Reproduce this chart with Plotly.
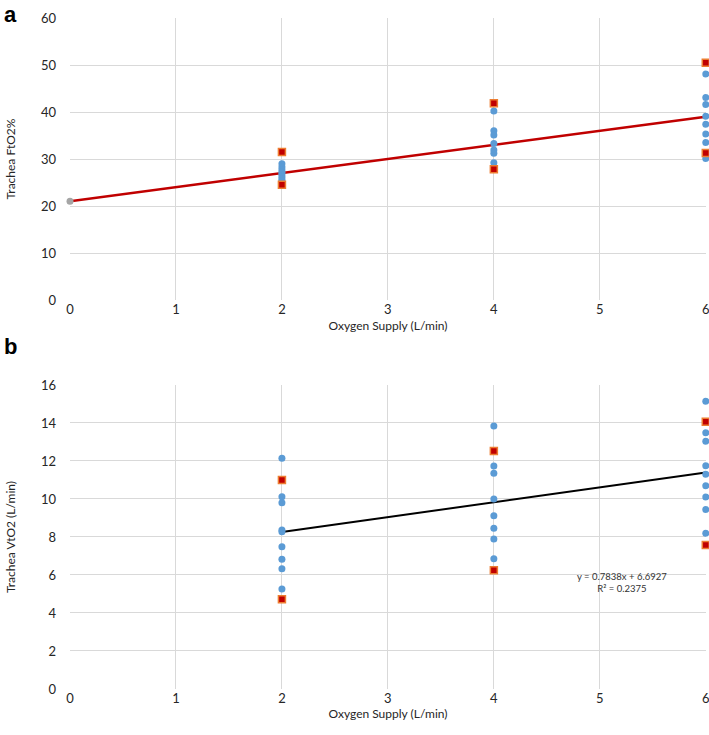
import plotly.graph_objects as go

# ---- Panel a data (Trachea FtO2 %) ----
a_blue_x = [2]*8 + [4]*7 + [6]*8
a_blue_y = [29.0, 28.3, 27.7, 27.2, 26.8, 26.3, 25.8, 25.4,
            40.2, 36.0, 35.1, 33.3, 31.9, 31.2, 29.2,
            48.1, 43.1, 41.6, 39.1, 37.4, 35.3, 33.5, 30.1]
a_red_x = [2, 2, 4, 4, 6, 6]
a_red_y = [31.5, 24.5, 41.85, 27.8, 50.5, 31.3]
a_grey_x = [0]
a_grey_y = [21.0]
a_line_x = [0, 6]
a_slope, a_intercept = 3.0, 21.0

# ---- Panel b data (Trachea VtO2 L/min) ----
b_blue_x = [2]*9 + [4]*8 + [6]*9
b_blue_y = [12.14, 10.12, 9.8, 8.37, 8.28, 7.49, 6.83, 6.33, 5.26,
            13.84, 11.74, 11.35, 10.0, 9.12, 8.46, 7.89, 6.86,
            15.14, 13.49, 13.04, 11.75, 11.3, 10.7, 10.1, 9.44, 8.19]
b_red_x = [2, 2, 4, 4, 6, 6]
b_red_y = [11.0, 4.72, 12.53, 6.25, 14.07, 7.58]
b_line_x = [2, 6]
b_slope, b_intercept = 0.7838, 6.6927
b_r2 = 0.2375

x_ticks = [0, 1, 2, 3, 4, 5, 6]

BLUE = "#5B9BD5"
RED = "#C00000"
ORANGE = "#ED7D31"
GREY = "#A5A5A5"
GRID = "#D9D9D9"
TXT = "#262626"
FONT = "Lato, Liberation Sans, sans-serif"

fig = go.Figure()

# Panel a
fig.add_trace(go.Scatter(x=a_line_x, y=[a_slope*v + a_intercept for v in a_line_x],
                         mode="lines", line=dict(color=RED, width=2.5),
                         xaxis="x", yaxis="y", showlegend=False, hoverinfo="skip"))
fig.add_trace(go.Scatter(x=a_grey_x, y=a_grey_y, mode="markers",
                         marker=dict(color=GREY, size=7), cliponaxis=False,
                         xaxis="x", yaxis="y", showlegend=False))
fig.add_trace(go.Scatter(x=a_blue_x, y=a_blue_y, mode="markers",
                         marker=dict(color=BLUE, size=7), cliponaxis=False,
                         xaxis="x", yaxis="y", showlegend=False))
fig.add_trace(go.Scatter(x=a_red_x, y=a_red_y, mode="markers",
                         marker=dict(color=RED, size=7, symbol="square",
                                     line=dict(color=ORANGE, width=1.5)),
                         cliponaxis=False, xaxis="x", yaxis="y", showlegend=False))

# Panel b
fig.add_trace(go.Scatter(x=b_line_x, y=[b_slope*v + b_intercept for v in b_line_x],
                         mode="lines", line=dict(color="black", width=2),
                         xaxis="x2", yaxis="y2", showlegend=False, hoverinfo="skip"))
fig.add_trace(go.Scatter(x=b_blue_x, y=b_blue_y, mode="markers",
                         marker=dict(color=BLUE, size=7), cliponaxis=False,
                         xaxis="x2", yaxis="y2", showlegend=False))
fig.add_trace(go.Scatter(x=b_red_x, y=b_red_y, mode="markers",
                         marker=dict(color=RED, size=7, symbol="square",
                                     line=dict(color=ORANGE, width=1.5)),
                         cliponaxis=False, xaxis="x2", yaxis="y2", showlegend=False))

axis_common = dict(showgrid=True, gridcolor=GRID, gridwidth=1, zeroline=False,
                   showline=False, tickfont=dict(size=13, color=TXT, family=FONT),
                   title_font=dict(size=12, color=TXT, family=FONT), fixedrange=True,
                   ticklabeloverflow="allow")

fig.update_layout(
    width=709, height=735,
    margin=dict(l=70, r=3, t=18, b=46),
    paper_bgcolor="white", plot_bgcolor="white",
    font=dict(family=FONT, color=TXT),
    xaxis=dict(domain=[0, 1], anchor="y", range=[0, 6.002], tickvals=x_ticks,
               automargin=False,
               title=dict(text="Oxygen Supply (L/min)", standoff=5), **axis_common),
    yaxis=dict(domain=[0.5797, 1.0], anchor="x", range=[0, 60], dtick=10,
               ticklabelstandoff=13,
               title=dict(text="Trachea FtO2%", standoff=22), **axis_common),
    xaxis2=dict(domain=[0, 1], anchor="y2", range=[0, 6.002], tickvals=x_ticks,
                automargin=False,
                title=dict(text="Oxygen Supply (L/min)", standoff=2), **axis_common),
    yaxis2=dict(domain=[0, 0.4531], anchor="x2", range=[0, 16], dtick=2,
                ticklabelstandoff=13,
                title=dict(text="Trachea VtO2 (L/min)", standoff=22), **axis_common),
    annotations=[
        dict(text=f"y = {b_slope}x + {b_intercept}<br>R² = {b_r2}",
             x=5.21, y=5.6, xref="x2", yref="y2", showarrow=False,
             font=dict(size=9.5, color="#333333", family=FONT), align="center"),
        dict(text="<b>a</b>", x=-0.107, y=1.027, xref="paper", yref="paper",
             xanchor="left", yanchor="top", showarrow=False,
             font=dict(size=22, color="black", family="Liberation Sans, Arial")),
        dict(text="<b>b</b>", x=-0.107, y=0.51, xref="paper", yref="paper",
             xanchor="left", yanchor="middle", showarrow=False,
             font=dict(size=22, color="black", family="Liberation Sans, Arial")),
    ],
)

fig.write_html("out.html", config={"displayModeBar": False},
               post_script="document.body.style.margin='0';document.body.style.padding='0';document.documentElement.style.overflow='hidden';")
